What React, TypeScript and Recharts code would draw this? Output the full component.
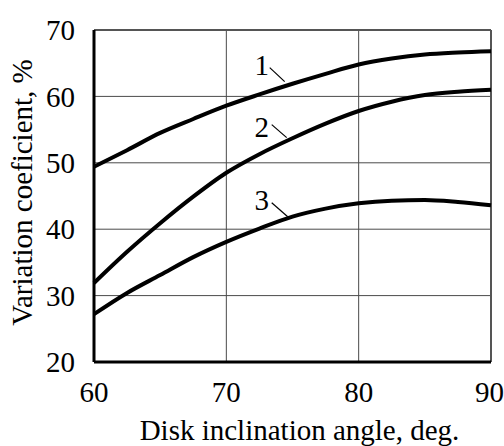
import React from "react";
import {
    LineChart, Line,
    XAxis, YAxis, CartesianGrid,
    ReferenceLine, ReferenceDot, Label,
} from "recharts";

// ─── Data ─────────────────────────────────────────────────────────────────────

const angles = [60, 62.5, 65, 67.5, 70, 72.5, 75, 77.5, 80, 82.5, 85, 87.5, 90];
const curve1 = [49.4, 51.9, 54.5, 56.6, 58.6, 60.3, 61.9, 63.4, 64.8, 65.7, 66.3, 66.6, 66.8];
const curve2 = [31.9, 36.6, 40.9, 44.9, 48.5, 51.3, 53.7, 55.9, 57.8, 59.2, 60.2, 60.7, 61.0];
const curve3 = [27.2, 30.4, 33.1, 35.8, 38.1, 40.1, 41.9, 43.1, 43.9, 44.3, 44.4, 44.1, 43.6];

const xTicks = [60, 70, 80, 90];
const yTicks = [20, 30, 40, 50, 60, 70];

// curve number, label position, leader segment (data units)
const curveLabels = [
    { name: "1", x: 72.67, y: 64.8, seg: [[73.28, 64.34], [74.41, 62.23]] },
    { name: "2", x: 72.67, y: 55.45, seg: [[73.43, 55.75], [74.56, 53.79]] },
    { name: "3", x: 72.67, y: 44.43, seg: [[73.43, 43.98], [74.64, 41.87]] },
];

const data = angles.map((a, i) => ({ angle: a, c1: curve1[i], c2: curve2[i], c3: curve3[i] }));

const FONT = "Liberation Serif";
const FS = 29;
const tickStyle = { fontSize: FS, fill: "#000", fontFamily: FONT };

// ─── Axis titles ──────────────────────────────────────────────────────────────

function XTitle(props: any) {
    const vb = props.viewBox ?? { x: 0, y: 0, width: 0, height: 0 };
    return (
        <text x={vb.x + vb.width / 2 + 7} y={vb.y + 78} textAnchor="middle"
            fontFamily={FONT} fontSize={FS} fill="#000">
            Disk inclination angle, deg.
        </text>
    );
}

function YTitle(props: any) {
    const vb = props.viewBox ?? { x: 0, y: 0, width: 0, height: 0 };
    const cx = 32;
    const cy = vb.y + vb.height / 2 - 3.5;
    return (
        <text x={cx} y={cy} textAnchor="middle" transform={`rotate(-90, ${cx}, ${cy})`}
            fontFamily={FONT} fontSize={FS} fill="#000">
            Variation coeficient, %
        </text>
    );
}

export default function App() {
    return (
        <div style={{ position: "absolute", left: 0, top: 0, width: 504, height: 446, background: "#fff", fontFamily: FONT }}>
            <LineChart width={504} height={446} data={data} margin={{ top: 30, right: 13, left: 0, bottom: 0 }}>
                <CartesianGrid stroke="#4a4a4a" strokeWidth={1} />
                <XAxis
                    dataKey="angle"
                    type="number"
                    domain={[60, 90]}
                    ticks={xTicks}
                    height={84}
                    axisLine={{ stroke: "#000", strokeWidth: 3 }}
                    tickLine={false}
                    tickSize={0}
                    tickMargin={19.5}
                    tick={tickStyle}
                >
                    <Label content={XTitle} />
                </XAxis>
                <YAxis
                    type="number"
                    domain={[20, 70]}
                    ticks={yTicks}
                    width={94}
                    axisLine={{ stroke: "#000", strokeWidth: 3 }}
                    tickLine={false}
                    tickSize={0}
                    tickMargin={19}
                    tick={tickStyle}
                >
                    <Label content={YTitle} />
                </YAxis>
                <ReferenceLine y={70} stroke="#555" strokeWidth={2} />
                <ReferenceLine x={90} stroke="#555" strokeWidth={2} />
                <Line type="monotone" dataKey="c1" stroke="#000" strokeWidth={4} dot={false} isAnimationActive={false} />
                <Line type="monotone" dataKey="c2" stroke="#000" strokeWidth={4} dot={false} isAnimationActive={false} />
                <Line type="monotone" dataKey="c3" stroke="#000" strokeWidth={4} dot={false} isAnimationActive={false} />
                {curveLabels.map((c) => (
                    <ReferenceLine
                        key={`seg-${c.name}`}
                        segment={[{ x: c.seg[0][0], y: c.seg[0][1] }, { x: c.seg[1][0], y: c.seg[1][1] }]}
                        stroke="#000"
                        strokeWidth={1.2}
                    />
                ))}
                {curveLabels.map((c) => (
                    <ReferenceDot
                        key={`lbl-${c.name}`}
                        x={c.x}
                        y={c.y}
                        r={0}
                        fill="none"
                        stroke="none"
                        label={{ value: c.name, position: "center", fill: "#000", fontSize: FS, fontFamily: FONT }}
                    />
                ))}
            </LineChart>
        </div>
    );
}
